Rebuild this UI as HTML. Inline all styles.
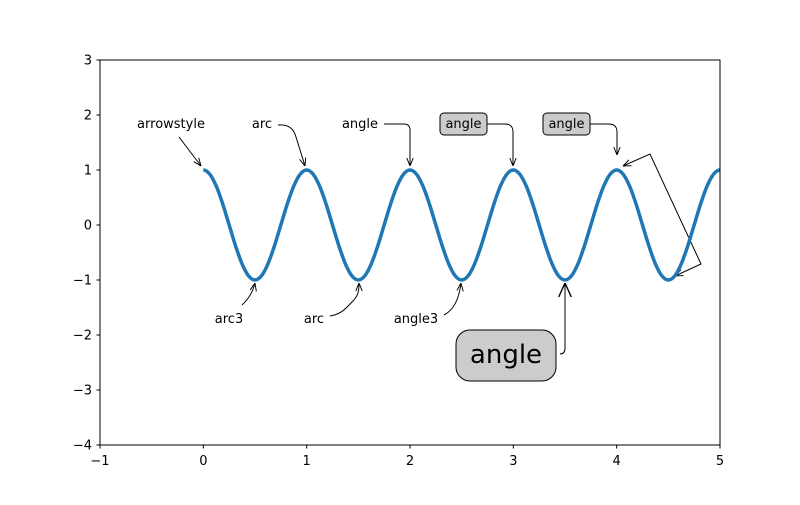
<!DOCTYPE html>
<html><head><meta charset="utf-8"><style>
html,body{margin:0;padding:0;background:#fff;}
svg text{font-family:"DejaVu Sans","Liberation Sans",sans-serif;}
</style></head><body>
<svg id="chart" width="800" height="500" viewBox="0 0 800 500" xmlns="http://www.w3.org/2000/svg">
<defs>
<marker id="ah" viewBox="0 0 10 10" refX="10" refY="5" markerWidth="8" markerHeight="8" orient="auto-start-reverse" markerUnits="userSpaceOnUse"><path d="M0,1 L10,5 L0,9" fill="none" stroke="#000" stroke-width="1.2"/></marker>
<marker id="ahb" viewBox="0 0 10 10" refX="10" refY="5" markerWidth="14" markerHeight="14" orient="auto" markerUnits="userSpaceOnUse"><path d="M0,0.5 L10,5 L0,9.5" fill="none" stroke="#000" stroke-width="1"/></marker>
</defs>
<rect x="100" y="60" width="620" height="385" fill="#fff" stroke="none"/>
<g id="ticks"></g>
<g id="annots" font-size="13" fill="#000">
<text x="171" y="128" text-anchor="middle">arrowstyle</text>
<path d="M179,137 L201,166" fill="none" stroke="#000" marker-end="url(#ah)"/>
<text x="262" y="128" text-anchor="middle">arc</text>
<path d="M278,125 C290,124 294,130 296,137 L305,166" fill="none" stroke="#000" marker-end="url(#ah)"/>
<text x="360" y="128" text-anchor="middle">angle</text>
<path d="M384,124 L404,124 Q410,124 410,130 L410,166" fill="none" stroke="#000" marker-end="url(#ah)"/>
<rect x="440" y="113" width="47" height="22" rx="4" fill="#cccccc" stroke="#000"/>
<text x="463.5" y="128" text-anchor="middle">angle</text>
<path d="M487,124 L505,124 Q513,124 513,132 L513,166" fill="none" stroke="#000" marker-end="url(#ah)"/>
<rect x="543" y="113" width="47" height="22" rx="4" fill="#cccccc" stroke="#000"/>
<text x="566.5" y="128" text-anchor="middle">angle</text>
<path d="M590,124 L609,124 Q617,124 617,132 L617,155" fill="none" stroke="#000" marker-end="url(#ah)"/>
<path d="M623,166 L650,154 L701,264 L675,276" fill="none" stroke="#000" marker-start="url(#ah)" marker-end="url(#ah)"/>
<text x="229" y="323" text-anchor="middle">arc3</text>
<path d="M242,305 Q252,296 255,283" fill="none" stroke="#000" marker-end="url(#ah)"/>
<text x="314" y="323" text-anchor="middle">arc</text>
<path d="M330,316 C342,314 346,308 352,302 C358,296 359,292 359,283" fill="none" stroke="#000" marker-end="url(#ah)"/>
<text x="416" y="323" text-anchor="middle">angle3</text>
<path d="M444,315 Q458,308 461,283" fill="none" stroke="#000" marker-end="url(#ah)"/>
<rect x="456" y="330" width="100" height="51" rx="14" fill="#cccccc" stroke="#000"/>
<text x="506" y="363" text-anchor="middle" font-size="26">angle</text>
<path d="M560,354 Q565,354 565,348 L565,283" fill="none" stroke="#000" marker-end="url(#ahb)"/>
</g>
<path id="curve" fill="none" stroke="#1f77b4" stroke-width="3.5" stroke-linejoin="round"/>
<rect x="100" y="60" width="620" height="385" fill="none" stroke="#000" stroke-width="1"/>
</svg>
<script>
const xTicks=[-1,0,1,2,3,4,5];
const yTicks=[3,2,1,0,-1,-2,-3,-4];
const tStart=0, tStep=0.0625;
const sValues=[
1,0.924,0.707,0.383,0,-0.383,-0.707,-0.924,-1,-0.924,-0.707,-0.383,0,0.383,0.707,0.924,
1,0.924,0.707,0.383,0,-0.383,-0.707,-0.924,-1,-0.924,-0.707,-0.383,0,0.383,0.707,0.924,
1,0.924,0.707,0.383,0,-0.383,-0.707,-0.924,-1,-0.924,-0.707,-0.383,0,0.383,0.707,0.924,
1,0.924,0.707,0.383,0,-0.383,-0.707,-0.924,-1,-0.924,-0.707,-0.383,0,0.383,0.707,0.924,
1,0.924,0.707,0.383,0,-0.383,-0.707,-0.924,-1,-0.924,-0.707,-0.383,0,0.383,0.707,0.924,
1];
const X=v=>100+(v+1)*620/6;
const Y=v=>445-(v+4)*385/7;
const NS="http://www.w3.org/2000/svg";
const g=document.getElementById('ticks');
function mk(tag,attrs){const e=document.createElementNS(NS,tag);for(const k in attrs)e.setAttribute(k,attrs[k]);g.appendChild(e);return e;}
xTicks.forEach(t=>{
  const l=mk('line',{x1:X(t),x2:X(t),y1:445,y2:448.5,stroke:'#000'});
  
  
  const tx=mk('text',{x:X(t),y:465,'text-anchor':'middle','font-size':'13'});
  
  
  tx.textContent=t<0?'\u2212'+Math.abs(t):t;
});
yTicks.forEach(t=>{
  const l=mk('line',{x1:96.5,x2:100,y1:Y(t),y2:Y(t),stroke:'#000'});
  
  
  const tx=mk('text',{x:92,y:Y(t)+4.5,'text-anchor':'end','font-size':'13'});
  
  
  tx.textContent=t<0?'\u2212'+Math.abs(t):t;
});
const P=sValues.map((s,i)=>[X(tStart+i*tStep),Y(s)]);
let d='M'+P[0][0]+','+P[0][1];
for(let i=0;i<P.length-1;i++){
  const p1=P[i],p2=P[i+1];
  const p0=i>0?P[i-1]:[2*p1[0]-p2[0],p2[1]];
  const p3=i+2<P.length?P[i+2]:[2*p2[0]-p1[0],p1[1]];
  const c1=[p1[0]+(p2[0]-p0[0])/6,p1[1]+(p2[1]-p0[1])/6];
  const c2=[p2[0]-(p3[0]-p1[0])/6,p2[1]-(p3[1]-p1[1])/6];
  d+=` C${c1[0]},${c1[1]} ${c2[0]},${c2[1]} ${p2[0]},${p2[1]}`;
}
document.getElementById('curve').setAttribute('d',d);
</script>
</body></html>
